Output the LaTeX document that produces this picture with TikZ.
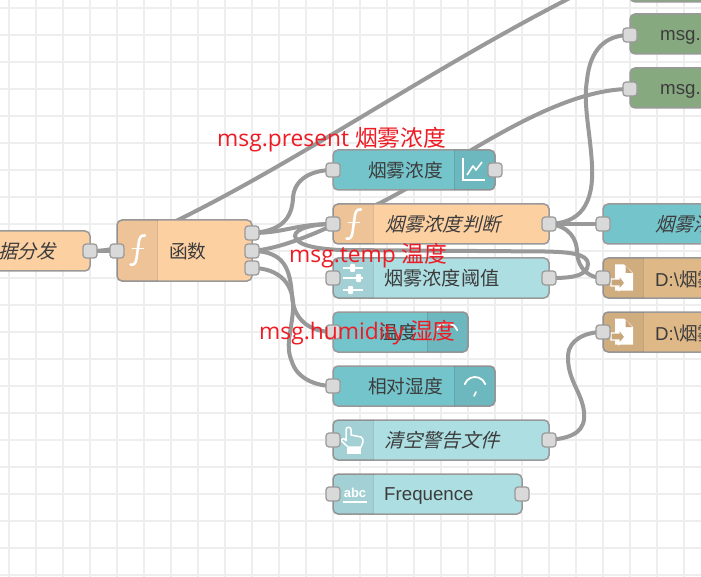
\documentclass[tikz,border=0pt]{standalone}
\usepackage{fontspec}
\setmainfont{Liberation Sans}
\newfontfamily\cjk{Noto Sans CJK SC}
\newfontfamily\cjki[FakeSlant=0.25]{Noto Sans CJK SC}
\newfontfamily\lab{Open Sans}
\definecolor{gridc}{HTML}{EEEEEE}
\definecolor{wirec}{HTML}{999999}
\definecolor{portc}{HTML}{D9D9D9}
\definecolor{txtc}{HTML}{3C3C3C}
\definecolor{teal}{HTML}{74C4CB}
\definecolor{lteal}{HTML}{ADDEE2}
\definecolor{orange}{HTML}{FDD0A2}
\definecolor{green}{HTML}{87A980}
\definecolor{tan}{HTML}{DEB887}
\definecolor{redl}{HTML}{ED1C24}
\tikzset{
  nr/.style={draw=wirec,line width=1.5pt,rounded corners=5pt,anchor=north west,inner sep=0pt,outer sep=0pt,minimum height=40pt},
  portn/.style={draw=wirec,line width=1.2pt,fill=portc,rounded corners=3pt,minimum width=14pt,minimum height=14pt,inner sep=0pt,outer sep=0pt},
  wire/.style={draw=wirec,line width=4pt,line cap=round},
  tl/.style={text=txtc,inner sep=0pt,font=\fontsize{18.7}{20}\selectfont},
  tli/.style={text=txtc,inner sep=0pt,font=\fontsize{19.2}{20}\selectfont},
  redlab/.style={text=redl,inner sep=0pt,anchor=base west,font=\fontsize{22.8}{24}\lab},
  ic/.style={draw=white,line width=1.6pt,line cap=round,line join=round},
  gridl/.style={draw=gridc,line width=2pt}
}
\newcommand{\strip}[4]{%
  \fill[black,opacity=.06] (#3,#2) [rounded corners=5pt] -- (#1,#2) -- (#1,#4) [sharp corners] -- (#3,#4) -- cycle;
  \draw[black,opacity=.1,line width=1pt] (#3,#2) -- (#3,#4);}
\newcommand{\fgly}[2]{% x,y of the icon centre
  \begin{scope}[shift={(#1,#2)}]
  \draw[ic,line width=2.6pt] (7.5,-15) .. controls (3,-16) and (1.5,-12) .. (1,-6) -- (-1,8) .. controls (-1.6,13) and (-4,15) .. (-7,14);
  \draw[ic,line width=1.8pt] (-5,-2) -- (6,-2);
  \end{scope}}
\newcommand{\filegly}[2]{%
  \begin{scope}[shift={(#1,#2)}]
  \fill[white] (-6,-13.5) -- (3,-13.5) -- (12,-5) -- (12,12.5) -- (-6,12.5) -- cycle;
  \fill[tan!90!black] (4.5,-12) -- (4.5,-5) -- (11,-5) -- cycle;
  \draw[white,line width=1.4pt,fill=tan!90!black] (-10,1) -- (-2,1) -- (-2,-3) -- (4,5) -- (-2,12) -- (-2,8) -- (-10,8) -- cycle;
  \end{scope}}
\begin{document}
\begin{tikzpicture}[x=1pt,y=-1pt]
\useasboundingbox (0,0) rectangle (701,577);
\clip (0,0) rectangle (701,577);
\fill[white] (0,0) rectangle (701,577);
\foreach \k in {0,...,25} {\draw[gridl] ({9+27*\k},0) -- ({9+27*\k},577);}
\foreach \k in {0,...,21} {\draw[gridl] (0,{8+27*\k}) -- (701,{8+27*\k});}

% port positions (named) -------------------------------------------------
\coordinate (aout) at (90,251);
\coordinate (fin) at (117,251);
\coordinate (fo1) at (252,233);
\coordinate (fo2) at (252,251);
\coordinate (fo3) at (252,268);
\coordinate (chi) at (333,170);
\coordinate (cho) at (495,170);
\coordinate (ji) at (333,224);
\coordinate (jo) at (549,224);
\coordinate (ti) at (333,278);
\coordinate (to) at (549,278);
\coordinate (wi) at (333,332);
\coordinate (hi) at (333,386);
\coordinate (qi) at (333,440);
\coordinate (qo) at (549,440);
\coordinate (ri) at (333,494);
\coordinate (ro) at (522,494);
\coordinate (di) at (603,224);
\coordinate (f1i) at (603,278);
\coordinate (f2i) at (603,332);
\coordinate (m1i) at (630,35);
\coordinate (m2i) at (630,89);
\coordinate (offtop) at (625,-30);

% wires ------------------------------------------------------------------
\draw[wire] (aout) -- (fin);
\draw[wire] (aout) .. controls (130,251) and (150,233) .. (178,220) .. controls (300,160) and (430,70) .. (566,0) -- (offtop);
\draw[wire] (fo1) .. controls (285,231) and (292,215) .. (293,198) .. controls (294,180) and (310,170) .. (chi);
\draw[wire] (fo1) .. controls (285,233) and (295,224) .. (ji);
\draw[wire] (fo2) .. controls (290,248) and (340,222) .. (380,203) .. controls (450,168) and (550,89) .. (m2i);
\draw[wire] (fo2) .. controls (285,251) and (290,270) .. (292,295) .. controls (293,320) and (310,332) .. (wi);
\draw[wire] (fo3) .. controls (280,268) and (295,285) .. (293,310) .. controls (291,335) and (285,345) .. (292,362) .. controls (297,378) and (315,386) .. (hi);
\draw[wire] (to) .. controls (565,278) and (588,278) .. (588,264) .. controls (588,254) and (570,252) .. (545,251.5) -- (340,250) .. controls (320,249) and (296,246) .. (295,236) .. controls (295,228) and (315,224) .. (ji);
\draw[wire] (jo) -- (di);
\draw[wire] (jo) .. controls (580,223) and (594,205) .. (592,165) .. controls (590,130) and (583,105) .. (587,80) .. controls (590,50) and (605,35) .. (m1i);
\draw[wire] (jo) .. controls (570,226) and (577,240) .. (577,252) .. controls (578,270) and (590,278) .. (f1i);
\draw[wire] (qo) .. controls (575,438) and (586,430) .. (584,412) .. controls (582,392) and (567,380) .. (568,355) .. controls (569,340) and (585,332) .. (f2i);

% nodes ------------------------------------------------------------------
\node[nr,fill=orange,minimum width=130pt] (nsplit) at (-40,231) {};
\node[tli,anchor=east] (tsplit) at (56,251) {\cjki 据分发};
\node[nr,fill=orange,minimum width=135pt,minimum height=61pt] (nfunc) at (117,220) {};
\strip{117}{220}{157.5}{281}
\fgly{137.5}{250.5}
\node[tl,anchor=west] (tfunc) at (169,251) {\cjk 函数};

\node[nr,fill=teal,minimum width=162pt] (nchart) at (333,150) {};
\strip{495}{150}{454}{190}
\node[tl,anchor=east] (tchart) at (443,170) {\cjk 烟雾浓度};
\draw[white,line width=1.2pt] (463,158.5) -- (463,180) -- (485,180);
\draw[white,line width=1.6pt,line join=round] (467,175) -- (473,166) -- (476,170) -- (482,162);

\node[nr,fill=orange,minimum width=216pt] (njudge) at (333,204) {};
\strip{333}{204}{373}{244}
\fgly{353.5}{224.5}
\node[tli,anchor=west] (tjudge) at (385,224) {\cjki 烟雾浓度判断};

\node[nr,fill=lteal,minimum width=216pt] (nthresh) at (333,258) {};
\strip{333}{258}{373}{298}
\node[tli,anchor=west] (tthresh) at (384,278) {\cjk 烟雾浓度阈值};
\draw[white,line width=2.6pt] (343,268) -- (363,268) (343,278) -- (363,278) (343,290) -- (363,290);
\fill[white,rounded corners=1pt] (350,264) rectangle (355,272) (356,274) rectangle (361,282) (348,286) rectangle (353,294);

\node[nr,fill=teal,minimum width=135pt] (ntemp) at (333,312) {};
\strip{468}{312}{427}{352}
\node[tl,anchor=east] (ttemp) at (417,332) {\cjk 温度};
\draw[white,line width=1.8pt,line cap=round] (447,334) ++(200:11) arc (200:340:11);

\node[nr,fill=teal,minimum width=162pt] (nhum) at (333,366) {};
\strip{495}{366}{454}{406}
\node[tl,anchor=east] (thum) at (443,386) {\cjk 相对湿度};
\draw[white,line width=1.8pt,line cap=round] (475,388) ++(200:11) arc (200:340:11);
\draw[white,line width=1.6pt,line cap=round] (474,396) -- (476,392);

\node[nr,fill=lteal,minimum width=216pt] (nclear) at (333,420) {};
\strip{333}{420}{373}{460}
\node[tli,anchor=west] (tclear) at (384,440) {\cjki 清空警告文件};
\draw[white,line width=1.5pt,line join=round] (346,441) -- (346,429.5) .. controls (346,426.5) and (351,426.5) .. (351,429.5) -- (351,435) -- (361,437) .. controls (363,438) and (363,440) .. (363,442) -- (361,447) -- (348,447) -- (341.5,441) .. controls (341,438) and (345,438) .. (346,441);
\draw[white,line width=1.2pt,fill=white] (348,448.5) rectangle (360,453);

\node[nr,fill=lteal,minimum width=189pt] (nfreq) at (333,474) {};
\strip{333}{474}{373}{514}
\node[text=white,inner sep=0pt,font=\fontsize{13}{14}\bfseries] (tabc) at (355,493) {abc};
\fill[white] (342.5,500.5) rectangle (367,503);
\node[tl,anchor=west] (tfreq) at (384,496) {Frequence};

\node[nr,fill=teal,minimum width=140pt] (ndbg) at (603,204) {};
\node[tli,anchor=west] (tdbg) at (655,224) {\cjki 烟雾浓};

\node[nr,fill=tan,minimum width=140pt] (nf1) at (603,258) {};
\strip{603}{258}{643}{298}
\filegly{621}{278}
\node[tl,anchor=west] (tf1) at (655,279) {D:\textbackslash{\cjk 烟雾}};

\node[nr,fill=tan,minimum width=140pt] (nf2) at (603,312) {};
\strip{603}{312}{643}{352}
\filegly{621}{332}
\node[tl,anchor=west] (tf2) at (655,333) {D:\textbackslash{\cjk 烟雾}};

\node[nr,fill=green,minimum width=120pt] (nm0) at (630,-38) {};
\node[nr,fill=green,minimum width=120pt] (nm1) at (630,14) {};
\node[tl,anchor=west] (tm1) at (660,37) {msg.};
\node[nr,fill=green,minimum width=120pt] (nm2) at (630,68) {};
\node[tl,anchor=west] (tm2) at (660,91) {msg.};

% ports ------------------------------------------------------------------
\foreach \p in {aout,fin,fo1,fo2,fo3,chi,cho,ji,jo,ti,to,wi,hi,qi,qo,ri,ro,di,f1i,f2i,m1i,m2i}
  {\node[portn] (port-\p) at (\p) {};}

% red annotations --------------------------------------------------------
\node[redlab] (l1) at (217,147) {msg.present {\cjk 烟雾浓度}};
\node[redlab] (l2) at (289,262) {msg.temp {\cjk 温度}};
\node[redlab] (l3) at (259,339) {msg.humidity {\cjk 湿度}};
\end{tikzpicture}
\end{document}
